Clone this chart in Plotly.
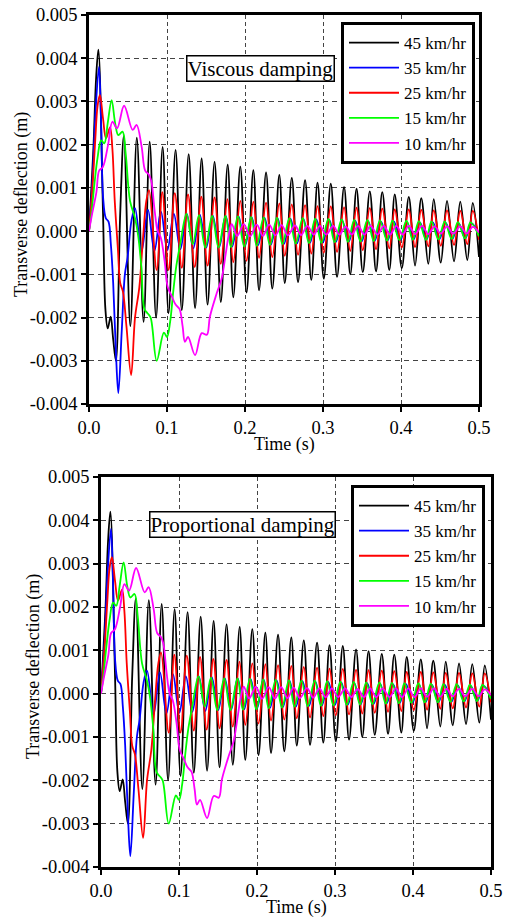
import plotly.graph_objects as go

# ---------------- data ----------------
SPEED_LABELS = ["45 km/hr", "35 km/hr", "25 km/hr", "15 km/hr", "10 km/hr"]
SERIES_COLORS = ["#000000", "#0000FF", "#FF0000", "#00FF00", "#FF00FF"]
PANEL_TITLES = ["Viscous damping", "Proportional damping"]

X_TICKS = [0.0, 0.1, 0.2, 0.3, 0.4, 0.5]
X_TICK_LABELS = ["0.0", "0.1", "0.2", "0.3", "0.4", "0.5"]
Y_TICKS = [-0.004, -0.003, -0.002, -0.001, 0.0, 0.001, 0.002, 0.003, 0.004, 0.005]
Y_TICK_LABELS = ["-0.004", "-0.003", "-0.002", "-0.001", "0.000",
                 "0.001", "0.002", "0.003", "0.004", "0.005"]

# (time s, deflection m) read at peaks, troughs and turning points
BLACK_45 = [
    (0.0, 0.0), (0.0056, 0.0019), (0.009, 0.0035), (0.012, 0.0042), (0.018, 0.0004),
    (0.021, -0.0018), (0.024, -0.00225), (0.0278, -0.00198), (0.031, -0.0025),
    (0.0345, -0.0030), (0.040, 0.0004), (0.0447, 0.0022),
    (0.053, -0.0022), (0.0613, 0.00216), (0.070, -0.0021), (0.0778, 0.00207),
    (0.086, -0.0020), (0.0944, 0.00195), (0.102, -0.0019), (0.111, 0.00188),
    (0.119, -0.00183), (0.1278, 0.00178), (0.136, -0.00178), (0.1444, 0.00168),
    (0.152, -0.0017), (0.161, 0.0016), (0.169, -0.00164), (0.1778, 0.00154),
    (0.185, -0.00153), (0.194, 0.00149), (0.202, -0.00142), (0.2107, 0.00141),
    (0.218, -0.00137), (0.227, 0.00136), (0.235, -0.00133), (0.244, 0.0013),
    (0.251, -0.0012), (0.260, 0.00123), (0.268, -0.00118), (0.277, 0.00118),
    (0.285, -0.00113), (0.293, 0.00112), (0.301, -0.0011), (0.310, 0.0011),
    (0.318, -0.00106), (0.327, 0.00102), (0.335, -0.001), (0.343, 0.00098),
    (0.351, -0.00095), (0.360, 0.00092), (0.368, -0.00093), (0.376, 0.0009),
    (0.385, -0.0009), (0.392, 0.00085), (0.401, -0.00086), (0.410, 0.00079),
    (0.418, -0.0008), (0.426, 0.00076), (0.435, -0.00076), (0.442, 0.00074),
    (0.451, -0.00073), (0.459, 0.0007), (0.468, -0.0007), (0.476, 0.00068),
    (0.485, -0.00067), (0.492, 0.00065), (0.5, -0.0006),
]

BLUE_35 = [
    (0.0, 0.0), (0.0045, 0.0012), (0.0085, 0.0028), (0.0128, 0.0038), (0.0155, 0.0025),
    (0.018, 0.0008), (0.0215, 0.0003), (0.025, 0.00022), (0.028, -0.0003),
    (0.031, -0.0012), (0.0345, -0.0028), (0.0376, -0.00375), (0.042, -0.0023),
    (0.046, -0.001), (0.0495, -0.0006), (0.0545, 0.00025), (0.059, 0.00053),
    (0.0673, -0.00048), (0.0756, 0.00049), (0.0839, -0.00046), (0.0922, 0.00045),
    (0.1005, -0.00044), (0.1088, 0.0004), (0.1171, -0.00042), (0.1254, 0.0004),
    (0.1337, -0.0004), (0.142, 0.00038), (0.1503, -0.00038), (0.1586, 0.00036),
    (0.1669, -0.00037), (0.1752, 0.00035), (0.1835, -0.00036), (0.1918, 0.00034),
    (0.2001, -0.00034), (0.2084, 0.00033), (0.2167, -0.00033), (0.225, 0.00031),
    (0.2333, -0.00031), (0.2416, 0.0003), (0.2499, -0.0003), (0.2582, 0.00029),
    (0.2665, -0.00029), (0.2748, 0.00028), (0.2831, -0.00028), (0.2914, 0.00027),
    (0.2997, -0.00027), (0.308, 0.00026), (0.3163, -0.00026), (0.3246, 0.00025),
    (0.3329, -0.00025), (0.3412, 0.00024), (0.3495, -0.00024), (0.3578, 0.00023),
    (0.3661, -0.00023), (0.3744, 0.00022), (0.3827, -0.00022), (0.391, 0.00022),
    (0.3993, -0.00021), (0.4076, 0.00021), (0.4159, -0.0002), (0.4242, 0.0002),
    (0.4325, -0.0002), (0.4408, 0.0002), (0.4491, -0.00019), (0.4574, 0.00019),
    (0.4657, -0.00018), (0.474, 0.00018), (0.4823, -0.00017), (0.4906, 0.00018),
    (0.5, -0.0001),
]

RED_25 = [
    (0.0, 0.0), (0.004, 0.0009), (0.008, 0.0021), (0.011, 0.0029), (0.014, 0.00315),
    (0.018, 0.0026), (0.0218, 0.00215), (0.027, 0.0024), (0.030, 0.0019),
    (0.033, 0.0007), (0.037, -0.0004), (0.040, -0.0012), (0.0435, -0.0014),
    (0.048, -0.0022), (0.054, -0.00333), (0.059, -0.0020), (0.0645, -0.0013),
    (0.0695, -0.0001), (0.0735, 0.0007), (0.077, 0.00095),
    (0.0868, -0.0009), (0.094, 0.0009), (0.102, -0.0009), (0.110, 0.00088),
    (0.119, -0.00085), (0.127, 0.00085), (0.1355, -0.00083), (0.144, 0.0008),
    (0.152, -0.0008), (0.161, 0.00078), (0.169, -0.00076), (0.1775, 0.00074),
    (0.185, -0.00072), (0.194, 0.0007), (0.202, -0.00069), (0.2107, 0.00068),
    (0.218, -0.00062), (0.227, 0.00066), (0.235, -0.0006), (0.244, 0.00064),
    (0.251, -0.00057), (0.260, 0.00062), (0.268, -0.00055), (0.277, 0.0006),
    (0.285, -0.00052), (0.293, 0.00058), (0.301, -0.0005), (0.310, 0.00057),
    (0.318, -0.00048), (0.327, 0.00055), (0.335, -0.00046), (0.343, 0.00054),
    (0.351, -0.00044), (0.360, 0.00053), (0.368, -0.00042), (0.376, 0.00052),
    (0.385, -0.0004), (0.392, 0.0005), (0.401, -0.00038), (0.410, 0.0005),
    (0.418, -0.00037), (0.426, 0.00049), (0.435, -0.00035), (0.442, 0.00048),
    (0.451, -0.00034), (0.459, 0.00048), (0.468, -0.00032), (0.476, 0.00047),
    (0.485, -0.0003), (0.492, 0.00047), (0.5, -0.0002),
]

GREEN_15 = [
    (0.0, 0.0), (0.003, 0.0004), (0.007, 0.0011), (0.011, 0.0017), (0.0155, 0.0021),
    (0.0196, 0.00203), (0.024, 0.0025), (0.029, 0.00303), (0.0335, 0.0025),
    (0.0376, 0.00222), (0.043, 0.0023), (0.047, 0.0018), (0.0526, 0.0007),
    (0.059, 0.0003), (0.063, -0.0001), (0.067, -0.0008), (0.071, -0.0018),
    (0.075, -0.0019), (0.079, -0.0020), (0.0868, -0.0030), (0.096, -0.00235),
    (0.100, -0.00245), (0.104, -0.0021), (0.108, -0.0014), (0.112, -0.0008),
    (0.117, -0.0003), (0.125, 0.0004), (0.133, -0.0003), (0.141, 0.00037),
    (0.149, -0.00038), (0.158, 0.00035), (0.166, -0.00038), (0.175, 0.00035),
    (0.182, -0.00037), (0.191, 0.00034), (0.199, -0.00036), (0.208, 0.00033),
    (0.215, -0.00034), (0.224, 0.00032), (0.232, -0.00032), (0.241, 0.00031),
    (0.248, -0.0003), (0.257, 0.0003), (0.265, -0.00029), (0.274, 0.0003),
    (0.282, -0.00028), (0.290, 0.00029), (0.298, -0.00027), (0.307, 0.00028),
    (0.315, -0.00026), (0.324, 0.00027), (0.332, -0.00025), (0.340, 0.00026),
    (0.348, -0.00024), (0.357, 0.00026), (0.365, -0.00023), (0.373, 0.00025),
    (0.382, -0.00022), (0.389, 0.00024), (0.398, -0.00021), (0.407, 0.00024),
    (0.415, -0.0002), (0.423, 0.00023), (0.432, -0.0002), (0.439, 0.00022),
    (0.448, -0.00019), (0.456, 0.00022), (0.465, -0.00018), (0.473, 0.00021),
    (0.482, -0.00017), (0.489, 0.0002), (0.5, -0.00012),
]

MAGENTA_10 = [
    (0.0, 0.0), (0.004, 0.0004), (0.0095, 0.0009), (0.013, 0.0014), (0.0177, 0.00148),
    (0.0245, 0.0020), (0.030, 0.00253), (0.036, 0.00238), (0.045, 0.0029),
    (0.056, 0.00234), (0.061, 0.00246), (0.0675, 0.00195), (0.072, 0.0014),
    (0.077, 0.0013), (0.080, 0.00115), (0.084, 0.0005), (0.088, 0.0),
    (0.092, -0.00015), (0.097, -0.0007), (0.101, -0.0013), (0.106, -0.0015),
    (0.111, -0.0017), (0.116, -0.0018), (0.120, -0.0022), (0.123, -0.00256),
    (0.127, -0.00245), (0.136, -0.00287), (0.1445, -0.00236), (0.151, -0.0024),
    (0.155, -0.00198), (0.1637, -0.00144), (0.170, -0.0011), (0.1755, -0.0005),
    (0.179, -0.0001), (0.183, 0.00016), (0.190, -0.00011), (0.1985, 0.00016),
    (0.2065, -0.00012), (0.215, 0.00015), (0.223, -0.00011), (0.231, 0.00015),
    (0.239, -0.0001), (0.247, 0.00014), (0.255, -0.0001), (0.264, 0.00013),
    (0.272, -0.00009), (0.280, 0.00012), (0.288, -0.00008), (0.296, 0.00012),
    (0.304, -0.00008), (0.313, 0.00012), (0.321, -0.00008), (0.329, 0.00011),
    (0.337, -0.00008), (0.345, 0.00012), (0.353, -0.00008), (0.361, 0.00012),
    (0.370, -0.00008), (0.378, 0.00012), (0.386, -0.00008), (0.394, 0.00012),
    (0.402, -0.00008), (0.410, 0.00012), (0.418, -0.00007), (0.427, 0.00012),
    (0.435, -0.00007), (0.443, 0.00011), (0.451, -0.00006), (0.459, 0.00011),
    (0.467, -0.00006), (0.476, 0.00011), (0.484, -0.00006), (0.492, 0.0001),
    (0.5, -0.00003),
]

# both panels read the same within the picture's resolution
PANEL_SERIES = [
    [BLACK_45, BLUE_35, RED_25, GREEN_15, MAGENTA_10],
    [BLACK_45, BLUE_35, RED_25, GREEN_15, MAGENTA_10],
]

# ---------------- layout helpers ----------------
W, H = 511, 918
FONT = "Liberation Serif"


def fx(p):
    return p / W


def fy(p):
    return 1 - p / H


PANELS = [
    dict(box=(89, 479, 15, 404), legend=(475, 22), label=(260, 68),
         ytitle=(22, 205)),
    dict(box=(101, 491, 477, 867), legend=(485, 485), label=(242, 524.5),
         ytitle=(33, 667)),
]

fig = go.Figure()
layout = dict(
    width=W, height=H,
    margin=dict(l=0, r=0, t=0, b=0, autoexpand=False),
    paper_bgcolor="white", plot_bgcolor="white",
    font=dict(family=FONT, size=18, color="black"),
    annotations=[],
)

for i, (panel, series) in enumerate(zip(PANELS, PANEL_SERIES)):
    suffix = "" if i == 0 else str(i + 1)
    legend_name = "legend" if i == 0 else "legend%d" % (i + 1)
    for label, color, pts in zip(SPEED_LABELS, SERIES_COLORS, series):
        fig.add_trace(go.Scatter(
            x=[p[0] for p in pts], y=[p[1] for p in pts],
            mode="lines", name=label,
            line=dict(color=color, width=1.8, shape="spline", smoothing=1.0),
            xaxis="x" + suffix, yaxis="y" + suffix, legend=legend_name,
        ))
    x0, x1, y0, y1 = panel["box"]
    common = dict(
        showline=True, linewidth=2.5, linecolor="black", mirror=True,
        ticks="outside", ticklen=5, tickwidth=2, tickcolor="black",
        showgrid=True, gridcolor="#444444", gridwidth=1, automargin=False,
        zeroline=False, tickfont=dict(family=FONT, size=18.5, color="black"),
    )
    layout["xaxis" + suffix] = dict(
        common, domain=[fx(x0), fx(x1)], range=[0, 0.5],
        tickvals=X_TICKS, ticktext=X_TICK_LABELS, griddash="4px,3px",
        anchor="y" + suffix,
    )
    layout["yaxis" + suffix] = dict(
        common, domain=[fy(y1), fy(y0)], range=[-0.004, 0.005],
        tickvals=Y_TICKS, ticktext=Y_TICK_LABELS, griddash="5px,4px",
        anchor="x" + suffix,
    )
    lx, ly = panel["legend"]
    layout[legend_name] = dict(
        x=fx(lx), y=fy(ly), xanchor="right", yanchor="top",
        bgcolor="white", bordercolor="black", borderwidth=3,
        font=dict(family=FONT, size=17, color="black"),
        itemwidth=50,
    )
    cx, cy = panel["label"]
    layout["annotations"].append(dict(
        text=PANEL_TITLES[i], x=fx(cx), y=fy(cy), xref="paper", yref="paper",
        xanchor="center", yanchor="middle", showarrow=False,
        font=dict(family=FONT, size=21, color="black"),
        bgcolor="white", bordercolor="black", borderwidth=1.5, borderpad=0,
    ))
    tx, ty = panel["ytitle"]
    layout["annotations"].append(dict(
        text="Transverse deflection (m)", x=fx(tx), y=fy(ty),
        xref="paper", yref="paper", xanchor="center", yanchor="middle",
        textangle=-90, showarrow=False, font=dict(family=FONT, size=18, color="black"),
    ))
    layout["annotations"].append(dict(
        text="Time (s)", x=fx((x0 + x1) / 2), y=fy(y1 + 40),
        xref="paper", yref="paper", xanchor="center", yanchor="middle",
        showarrow=False, font=dict(family=FONT, size=18, color="black"),
    ))

layout["showlegend"] = True
fig.update_layout(**layout)
fig.write_html("out.html")
